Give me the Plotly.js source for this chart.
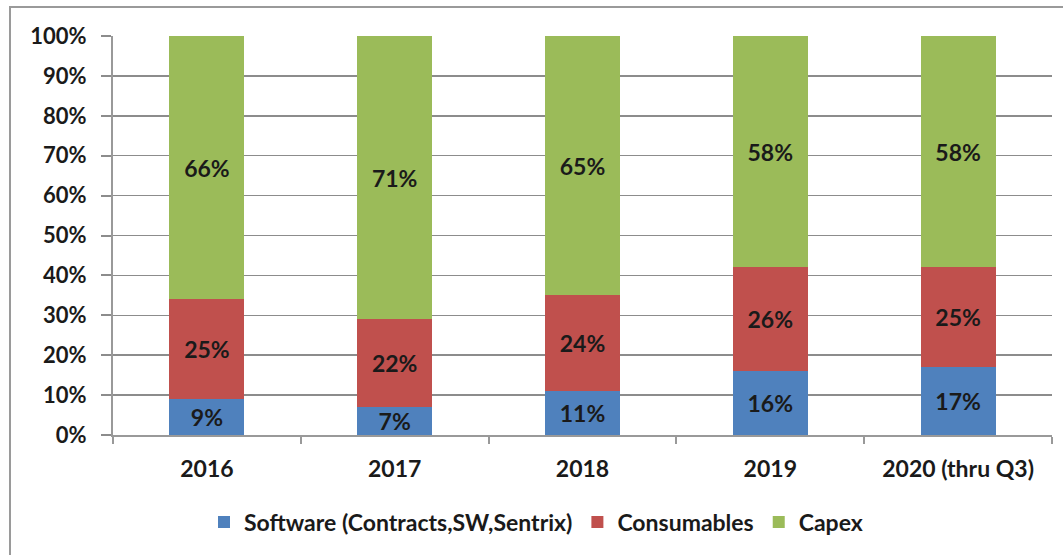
<!DOCTYPE html>
<html>
<head>
<meta charset="utf-8">
<script src="https://cdn.plot.ly/plotly-3.0.1.min.js"></script>
<style>html,body{margin:0;padding:0;background:#fff;}#chart{width:1063px;height:555px;}</style>
</head>
<body>
<div id="chart"></div>
<script>
const categories = ["2016", "2017", "2018", "2019", "2020 (thru Q3)"];
const software = [9, 7, 11, 16, 17];
const consumables = [25, 22, 24, 26, 25];
const capex = [66, 71, 65, 58, 58];
const seriesNames = ["Software (Contracts,SW,Sentrix)", "Consumables", "Capex"];
const yTicks = [0, 10, 20, 30, 40, 50, 60, 70, 80, 90, 100];

const W = 1063, H = 555;
const mL = 113, mR = 11, mT = 36, mB = 120;
const pw = W - mL - mR, ph = H - mT - mB;
const px = v => (v - mL) / pw;
const py = v => (H - mB - v) / ph;

const FONT = "Lato, Open Sans, sans-serif";
const colors = ["#4F81BD", "#C0504D", "#9BBB59"];
const vals = [software, consumables, capex];

const traces = vals.map((v, i) => ({
  type: "bar",
  name: seriesNames[i],
  x: categories,
  y: v,
  marker: {color: colors[i], line: {width: 0}},
  text: v.map(t => t + "%"),
  textposition: "inside",
  insidetextanchor: "middle",
  textangle: 0,
  constraintext: "none",
  textfont: {family: FONT, size: 23, color: "#1a1a1a", weight: 700},
  hoverinfo: "skip"
}));

const layout = {
  width: W, height: H,
  margin: {l: mL, r: mR, t: mT, b: mB},
  paper_bgcolor: "#fff",
  plot_bgcolor: "#fff",
  barmode: "stack",
  bargap: 0.6,
  showlegend: true,
  legend: {
    orientation: "h",
    x: px(536), xanchor: "center",
    y: py(522), yanchor: "middle",
    font: {family: FONT, size: 23, color: "#1a1a1a", weight: 700},
    traceorder: "normal",
    itemwidth: 30
  },
  xaxis: {
    type: "category",
    tickson: "boundaries",
    ticks: "outside",
    ticklen: 7,
    tickwidth: 2,
    tickcolor: "#999999",
    showline: true,
    linecolor: "#999999",
    linewidth: 2,
    showgrid: false,
    tickfont: {family: FONT, size: 23, color: "#1a1a1a", weight: 700},
    ticklabelstandoff: 12,
    fixedrange: true
  },
  yaxis: {
    range: [0, 100],
    tickvals: yTicks,
    ticktext: yTicks.map(t => t + "%"),
    ticks: "outside",
    ticklen: 10,
    tickwidth: 2,
    tickcolor: "#8c8c8c",
    showline: true,
    linecolor: "#999999",
    linewidth: 2,
    showgrid: true,
    gridcolor: "#8c8c8c",
    gridwidth: 1.5,
    zeroline: false,
    tickfont: {family: FONT, size: 22, color: "#1a1a1a", weight: 700},
    ticklabelstandoff: 10,
    fixedrange: true
  },
  shapes: [{
    type: "rect", xref: "paper", yref: "paper", layer: "below",
    x0: px(10), x1: px(1075), y0: py(565), y1: py(7),
    line: {color: "#9a9a9a", width: 2}, fillcolor: "rgba(0,0,0,0)"
  }]
};

Plotly.newPlot("chart", traces, layout, {displayModeBar: false, staticPlot: true});
</script>
</body>
</html>
